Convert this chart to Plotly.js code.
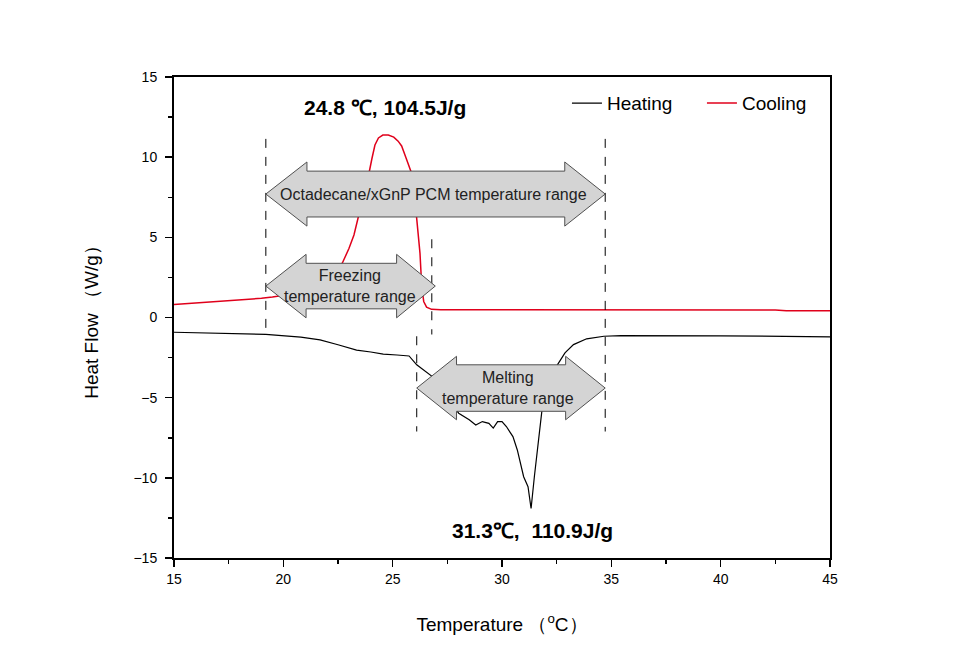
<!DOCTYPE html>
<html>
<head>
<meta charset="utf-8">
<script src="https://cdn.plot.ly/plotly-3.0.1.min.js"></script>
<style>html,body{margin:0;padding:0;background:#fff;}</style>
</head>
<body>
<div id="chart" style="width:964px;height:670px;"></div>
<script>
// Cooling curve (red)
const coolT = [15, 16, 17, 18, 19, 19.5, 20, 20.5, 21, 21.5, 22, 22.4, 22.7, 23.0, 23.23, 23.5, 23.75, 23.93, 24.05, 24.19, 24.35, 24.55, 24.8, 25.05, 25.25, 25.41, 25.6, 25.84, 26.0, 26.12, 26.2, 26.25, 26.33, 26.42, 26.55, 26.78, 27.2, 30, 35, 40, 42.5, 43, 45];
const coolHF = [0.81, 0.9, 1.0, 1.1, 1.2, 1.28, 1.36, 1.48, 1.63, 1.85, 2.2, 2.7, 3.4, 4.3, 5.15, 6.6, 8.0, 9.09, 9.9, 10.76, 11.2, 11.38, 11.38, 11.25, 11.0, 10.7, 10.0, 9.09, 7.6, 6.0, 5.0, 4.0, 1.92, 1.0, 0.65, 0.51, 0.48, 0.48, 0.48, 0.48, 0.47, 0.42, 0.42];
// Heating curve (black)
const heatT = [15, 16, 17, 18.4, 19.2, 20.8, 21.68, 22.5, 23.35, 24.0, 24.57, 25.2, 25.75, 26.1, 26.4, 26.83, 27.2, 27.6, 28.02, 28.5, 28.8, 29.1, 29.4, 29.6, 29.8, 30.0, 30.2, 30.5, 30.7, 30.99, 31.19, 31.33, 31.48, 31.68, 31.82, 32.0, 32.3, 32.54, 32.88, 33.27, 33.87, 34.66, 35.45, 40, 43.97, 45];
const heatHF = [-0.92, -0.94, -0.97, -1.0, -1.05, -1.23, -1.4, -1.7, -2.03, -2.15, -2.28, -2.34, -2.4, -2.95, -3.25, -3.7, -4.3, -5.2, -5.97, -6.38, -6.7, -6.49, -6.6, -6.9, -6.49, -6.49, -6.8, -7.43, -8.26, -9.93, -10.55, -11.91, -9.93, -7.43, -5.87, -4.5, -3.5, -2.94, -2.21, -1.69, -1.33, -1.17, -1.13, -1.14, -1.17, -1.21];

const seriesNames = ["Heating", "Cooling"];
const xTickVals = [15, 20, 25, 30, 35, 40, 45];
const yTickVals = [-15, -10, -5, 0, 5, 10, 15];

// annotation geometry
function arrowPath(x0, xh1, xh2, x1, yc, hh, sh) {
  const p = [[x0, yc], [xh1, yc + hh], [xh1, yc + sh], [xh2, yc + sh], [xh2, yc + hh], [x1, yc],
             [xh2, yc - hh], [xh2, yc - sh], [xh1, yc - sh], [xh1, yc - hh]];
  return 'M' + p.map(q => q[0] + ',' + q[1]).join(' L') + ' Z';
}
const arrowStyle = {type: 'path', xref: 'x', yref: 'y', fillcolor: '#d4d4d4', line: {color: '#505050', width: 1}, layer: 'above'};
function dashed(x, y0, y1) {
  return {type: 'line', xref: 'x', yref: 'y', x0: x, x1: x, y0: y0, y1: y1, line: {color: '#000', width: 1, dash: 'dash'}, layer: 'above'};
}

const shapes = [
  dashed(19.2, 11.14, -0.96),
  dashed(26.79, 4.88, -1.06),
  dashed(26.1, -1.17, -7.11),
  dashed(34.72, 11.14, -7.11),
  Object.assign({path: arrowPath(19.2, 21.08, 32.87, 34.72, 7.7, 2.0, 1.43)}, arrowStyle),
  Object.assign({path: arrowPath(19.2, 21.04, 25.18, 26.95, 1.96, 1.98, 1.42)}, arrowStyle),
  Object.assign({path: arrowPath(26.1, 27.92, 32.91, 34.72, -4.4, 1.98, 1.45)}, arrowStyle)
];

const F = 'Arial, "Liberation Sans", sans-serif';
const annotations = [
  {x: 24.65, y: 13.12, text: '<b>24.8 ℃, 104.5J/g</b>', showarrow: false, font: {family: F, size: 21, color: '#000'}},
  {x: 31.39, y: -13.27, text: '<b>31.3℃,  110.9J/g</b>', showarrow: false, font: {family: F, size: 21, color: '#000'}},
  {x: 26.87, y: 7.7, text: 'Octadecane/xGnP PCM temperature range', showarrow: false, font: {family: F, size: 16, color: '#222'}},
  {x: 23.05, y: 1.96, text: 'Freezing<br>temperature range', showarrow: false, font: {family: F, size: 16, color: '#222'}},
  {x: 30.26, y: -4.4, text: 'Melting<br>temperature range', showarrow: false, font: {family: F, size: 16, color: '#222'}}
];

const traces = [
  {x: heatT, y: heatHF, name: seriesNames[0], type: 'scatter', mode: 'lines', line: {color: '#000000', width: 1.2}},
  {x: coolT, y: coolHF, name: seriesNames[1], type: 'scatter', mode: 'lines', line: {color: '#e0001b', width: 1.5}}
];

const layout = {
  width: 964, height: 670,
  margin: {l: 174, r: 134, t: 77, b: 112},
  paper_bgcolor: '#fff', plot_bgcolor: '#fff',
  font: {family: F, color: '#000'},
  showlegend: true,
  legend: {orientation: 'h', x: 0.599, xanchor: 'left', y: 0.985, yanchor: 'top', entrywidth: 90, entrywidthmode: 'pixels',
           font: {family: F, size: 19, color: '#000'}, bgcolor: 'rgba(0,0,0,0)'},
  xaxis: {
    range: [15, 45], tickvals: xTickVals, ticks: 'outside', ticklen: 7, tickwidth: 1.5, tickcolor: '#000',
    minor: {dtick: 2.5, tick0: 15, ticks: 'outside', ticklen: 4, tickwidth: 1.5, tickcolor: '#000'},
    showline: true, linecolor: '#000', linewidth: 2, mirror: true, showgrid: false, zeroline: false,
    tickfont: {family: F, size: 14, color: '#000'},
    title: {text: 'Temperature （<sup>o</sup>C）', font: {family: F, size: 19, color: '#000'}, standoff: 32}
  },
  yaxis: {
    range: [-15, 15], tickvals: yTickVals, ticks: 'outside', ticklen: 7, tickwidth: 1.5, tickcolor: '#000',
    minor: {dtick: 2.5, tick0: -15, ticks: 'outside', ticklen: 4, tickwidth: 1.5, tickcolor: '#000'},
    showline: true, linecolor: '#000', linewidth: 2, mirror: true, showgrid: false, zeroline: false,
    tickfont: {family: F, size: 14, color: '#000'}, ticklabelstandoff: 5,
    title: {text: 'Heat Flow （W/g）', font: {family: F, size: 19, color: '#000'}, standoff: 30}
  },
  shapes: shapes,
  annotations: annotations
};

Plotly.newPlot('chart', traces, layout, {displayModeBar: false, staticPlot: true});
</script>
</body>
</html>
